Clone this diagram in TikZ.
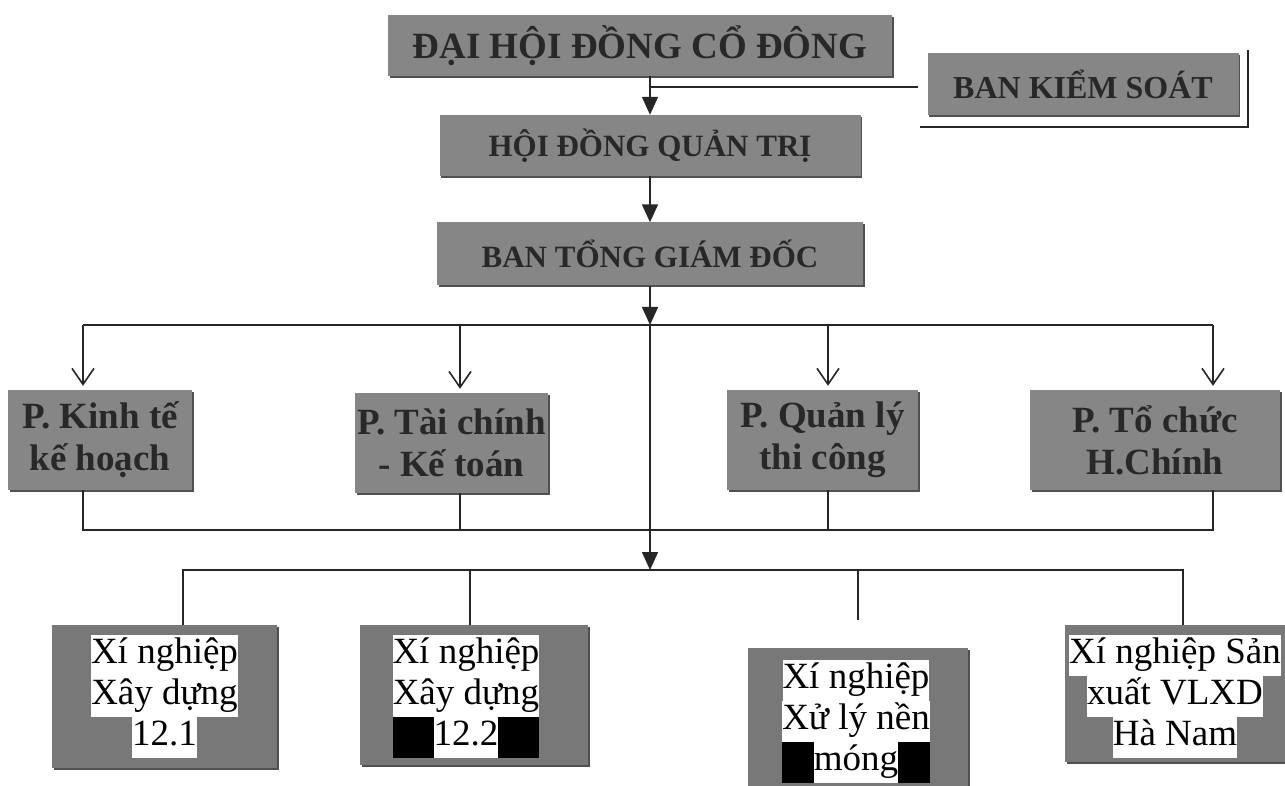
\documentclass[tikz,border=0pt]{standalone}
\usepackage{fontspec}
\setmainfont{Liberation Serif}
\usetikzlibrary{arrows.meta,shadows}
\definecolor{boxgray}{RGB}{134,134,134}
\definecolor{boxgrayb}{RGB}{120,120,120}
\definecolor{boxedge}{RGB}{80,80,80}
\definecolor{txtdark}{RGB}{40,40,40}
\begin{document}
\begin{tikzpicture}[x=1pt,y=-1pt,
  gbox/.style={fill=boxgray, draw=none, inner sep=0pt, text=txtdark,
    drop shadow={shadow xshift=1.5pt, shadow yshift=-2pt, fill=boxedge, opacity=1}},
  topbox/.style={gbox, font=\bfseries\fontsize{31}{36}\selectfont},
  midbox/.style={gbox, align=center, font=\bfseries\fontsize{37}{42}\selectfont},
  botbox/.style={fill=boxgrayb, draw=none, inner sep=0pt,
    drop shadow={shadow xshift=1.5pt, shadow yshift=-2pt, fill=boxedge, opacity=1}},
  hl/.style={fill=white, inner xsep=0pt, inner ysep=0pt, text height=29pt, text depth=12pt,
    font=\fontsize{37}{41}\selectfont},
  conn/.style={line width=1.6pt, draw=black!85},
  tri/.style={conn, -{Triangle[length=18pt,width=16pt]}},
  barb/.style={conn, -{Straight Barb[length=16pt,width=22pt,line width=1.6pt]}}
]
\useasboundingbox (0,0) rectangle (1285,786);

% top boxes
\node[topbox, minimum width=504pt, minimum height=61pt, font=\bfseries\fontsize{37}{40}\selectfont] (DH) at (640,45.5) {ĐẠI HỘI ĐỒNG CỔ ĐÔNG};
\node[topbox, minimum width=421pt, minimum height=61pt] (HD) at (650,145.5) {HỘI ĐỒNG QUẢN TRỊ};
\node[topbox, minimum width=426pt, minimum height=63pt] (BT) at (650,254) {BAN TỔNG GIÁM ĐỐC};
\node[topbox, minimum width=311pt, minimum height=62pt, font=\bfseries\fontsize{32}{36}\selectfont] (BK) at (1083,84) {BAN KIỂM SOÁT};

% middle boxes
\node[midbox, minimum width=184pt, minimum height=100pt] (K) at (100,440) {P. Kinh tế\\kế hoạch};
\node[midbox, minimum width=193pt, minimum height=100pt] (TC) at (451.5,443) {P. Tài chính\\- Kế toán};
\node[midbox, minimum width=191pt, minimum height=100pt] (Q) at (822.5,440) {P. Quản lý\\thi công};
\node[midbox, minimum width=250pt, minimum height=100pt] (TO) at (1155,440) {P. Tổ chức\\H.Chính};

% bottom boxes
\node[botbox, minimum width=225pt, minimum height=143pt] (X1) at (164.5,696.5) {};
\node[botbox, minimum width=228pt, minimum height=140pt] (X2) at (474,695) {};
\node[botbox, minimum width=220pt, minimum height=140pt] (X3) at (858,718) {};
\node[botbox, minimum width=220pt, minimum height=137pt] (X4) at (1175,693.5) {};

% box 1 text
\node[hl] (X1a) at (164.5,655) {Xí nghiệp};
\node[hl] (X1b) at (164.5,696) {Xây dựng};
\node[hl] (X1c) at (164.5,737) {12.1};
% box 2 text
\node[hl] (X2a) at (466,655) {Xí nghiệp};
\node[hl] (X2b) at (466,696) {Xây dựng};
\fill[black] (X2b.west |- 0,716.5) rectangle (X2b.east |- 0,757.5);
\node[hl] (X2c) at (466,737) {12.2};
% box 3 text
\node[hl] (X3a) at (856,680) {Xí nghiệp};
\node[hl] (X3b) at (856,721) {Xử lý nền};
\fill[black] (X3a.west |- 0,741.5) rectangle (X3a.east |- 0,782.5);
\node[hl] (X3c) at (856,762) {móng};
% box 4 text
\node[hl] (X4a) at (1175,655) {Xí nghiệp Sản};
\node[hl] (X4b) at (1175,696) {xuất VLXD};
\node[hl] (X4c) at (1175,737) {Hà Nam};

% coordinates
\coordinate (s1) at (650,87);
\coordinate (bk) at (918,87);
\coordinate (f1) at (920,127);
\coordinate (f2) at (1248,127);
\coordinate (f3) at (1248,50);
\coordinate (bus1) at (650,325);
\coordinate (bus2) at (650,530);
\coordinate (bus3) at (650,570);
\coordinate (a1) at (83,325);
\coordinate (a2) at (460,325);
\coordinate (a3) at (828,325);
\coordinate (a4) at (1213,325);
\coordinate (b1) at (183,570);
\coordinate (b2) at (470,570);
\coordinate (b3) at (858,570);
\coordinate (b3e) at (858,620);
\coordinate (b4) at (1183,570);

% connectors top
\draw[tri] (DH.south -| HD.north) -- (HD.north);
\draw[conn] (s1) -- (bk);
\draw[conn] (f1) -- (f2) -- (f3);
\draw[tri] (HD.south) -- (BT.north);
\draw[tri] (BT.south) -- (bus1);

% top bus and arrows
\draw[conn] (a1) -- (a4);
\draw[barb, shorten >=4pt] (a1) -- (a1 |- K.north);
\draw[barb, shorten >=4pt] (a2) -- (a2 |- TC.north);
\draw[barb, shorten >=4pt] (a3) -- (a3 |- Q.north);
\draw[barb, shorten >=4pt] (a4) -- (a4 |- TO.north);

% lower bus of departments
\draw[conn] (a1 |- K.south) -- (a1 |- bus2) -- (a4 |- bus2) -- (a4 |- TO.south);
\draw[conn] (a2 |- TC.south) -- (a2 |- bus2);
\draw[conn] (a3 |- Q.south) -- (a3 |- bus2);

% spine
\draw[tri] (bus1) -- (bus3);

% bottom bus
\draw[conn] (b1 |- X1.north) -- (b1) -- (b4) -- (b4 |- X4.north);
\draw[conn] (b2) -- (b2 |- X2.north);
\draw[conn] (b3) -- (b3e);
\end{tikzpicture}
\end{document}
